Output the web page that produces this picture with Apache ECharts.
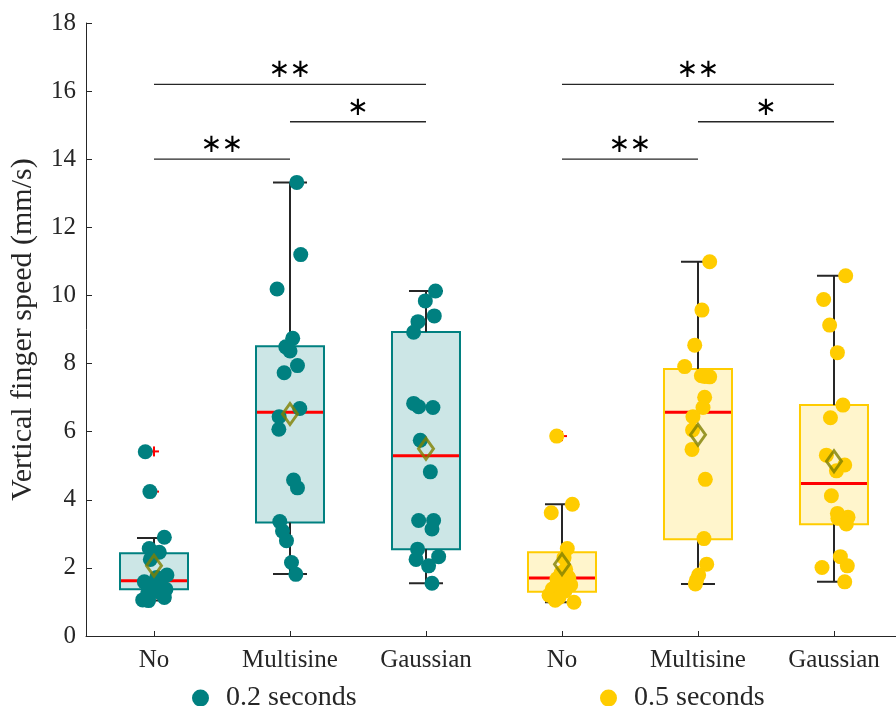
<!DOCTYPE html>
<html><head><meta charset="utf-8">
<script src="https://cdn.jsdelivr.net/npm/echarts@6/dist/echarts.min.js"></script>
<style>html,body{margin:0;padding:0;background:#fff}#c{width:896px;height:706px}</style>
</head><body><div id="c"></div><script>
// ---- data ----
const categories = ['No', 'Multisine', 'Gaussian', 'No', 'Multisine', 'Gaussian'];
const groupNames = ['0.2 seconds', '0.5 seconds'];
const yTicks = [0, 2, 4, 6, 8, 10, 12, 14, 16, 18];

const shortNo = [5.41, 4.24, 2.90, 2.57, 2.46, 2.25, 1.79, 1.72, 1.64, 1.59, 1.52, 1.45, 1.37, 1.30, 1.25, 1.13, 1.06, 1.04];
const shortNoJit = [-0.064, -0.03, 0.076, -0.035, 0.039, -0.027, 0.095, 0.02, 0.05, -0.071, -0.02, 0.0, 0.088, 0.03, -0.046, 0.076, -0.083, -0.04];
const shortMulti = [13.32, 11.2, 10.19, 8.74, 8.49, 8.37, 7.94, 7.73, 6.68, 6.44, 6.07, 4.58, 4.35, 3.36, 3.08, 2.80, 2.16, 1.81];
const shortMultiJit = [0.05, 0.079, -0.095, 0.02, -0.031, 0.0, 0.055, -0.043, 0.072, -0.08, -0.082, 0.026, 0.055, -0.075, -0.055, -0.026, 0.011, 0.043];
const shortGauss = [10.13, 9.84, 9.40, 9.23, 8.92, 6.83, 6.73, 6.71, 5.75, 4.82, 3.39, 3.39, 3.14, 2.55, 2.33, 2.25, 2.06, 1.55];
const shortGaussJit = [0.07, -0.005, 0.061, -0.059, -0.091, -0.091, -0.054, 0.051, -0.042, 0.032, -0.054, 0.056, 0.044, -0.062, 0.093, -0.073, 0.019, 0.044];

const longNo = [5.87, 3.87, 3.62, 2.57, 2.30, 1.96, 1.85, 1.74, 1.70, 1.68, 1.50, 1.43, 1.38, 1.32, 1.20, 1.13, 1.05, 0.99];
const longNoJit = [-0.039, 0.076, -0.079, 0.039, 0.015, 0.027, -0.007, 0.044, 0.05, -0.037, 0.064, -0.01, -0.071, 0.022, -0.095, -0.022, -0.05, 0.088];
const longMulti = [10.99, 9.57, 8.54, 7.91, 7.64, 7.62, 7.61, 7.01, 6.71, 6.44, 6.05, 5.48, 4.60, 2.86, 2.11, 1.79, 1.65, 1.53];
const longMultiJit = [0.086, 0.029, -0.024, -0.098, 0.025, 0.05, 0.086, 0.049, 0.037, -0.037, -0.04, -0.044, 0.054, 0.044, 0.064, 0.005, -0.01, -0.019];
const longGauss = [10.58, 9.88, 9.13, 8.32, 6.78, 6.41, 5.31, 5.02, 4.85, 4.12, 3.60, 3.49, 3.46, 3.29, 2.33, 2.06, 2.01, 1.59];
const longGaussJit = [0.086, -0.076, -0.032, 0.025, 0.066, -0.026, -0.056, 0.079, 0.018, -0.019, 0.025, 0.103, 0.029, 0.091, 0.047, 0.098, -0.088, 0.079];

const boxLow  = [1.04, 1.82, 1.55, 0.99, 1.53, 1.59];
const boxQ1   = [1.37, 3.33, 2.55, 1.30, 2.84, 3.28];
const boxMed  = [1.62, 6.57, 5.29, 1.70, 6.57, 4.48];
const boxQ3   = [2.43, 8.51, 8.93, 2.46, 7.84, 6.78];
const boxHigh = [2.88, 13.32, 10.13, 3.87, 10.99, 10.58];
const boxMean = [2.06, 6.52, 5.50, 2.11, 5.91, 5.13];

const outlierPos = [1, 1, 4];
const outlierVal = [5.42, 4.24, 5.87];

const sigFrom  = [1, 2, 1, 4, 5, 4];
const sigTo    = [2, 3, 3, 5, 6, 6];
const sigLevel = [14.0, 15.1, 16.2, 14.0, 15.1, 16.2];
const sigLabel = ['∗∗', '∗', '∗∗', '∗∗', '∗', '∗∗'];

// ---- styling ----
const TEAL = '#008080', YEL = '#ffcc00';
const TEAL_FILL = '#cce6e6', YEL_FILL = '#fff5cc';
const AX = '#262626';
const FONT = '"Liberation Serif", "Times New Roman", serif';

const groups = [
  [[shortNo, shortNoJit], [shortMulti, shortMultiJit], [shortGauss, shortGaussJit]],
  [[longNo, longNoJit], [longMulti, longMultiJit], [longGauss, longGaussJit]]
];

function pointsFor(g) {
  const out = [];
  groups[g].forEach(function (pair, k) {
    const pos = g * 3 + k + 1;
    pair[0].forEach(function (v, i) { out.push([pos + pair[1][i], v]); });
  });
  return out;
}

const boxData = categories.map(function (c, i) {
  return [i + 1, boxLow[i], boxQ1[i], boxMed[i], boxQ3[i], boxHigh[i]];
});

const chart = echarts.init(document.getElementById('c'), null, {renderer: 'canvas'});
chart.setOption({
  animation: false,
  backgroundColor: '#fff',
  grid: {left: 85, right: 0, top: 23, bottom: 70, containLabel: false},
  xAxis: {
    type: 'value', min: 0.5, max: 6.456,
    axisLine: {show: true, lineStyle: {color: AX, width: 1}},
    axisTick: {show: true, inside: true, length: 5, customValues: [1, 2, 3, 4, 5, 6], lineStyle: {color: AX}},
    axisLabel: {
      show: true, customValues: [1, 2, 3, 4, 5, 6], margin: 12,
      formatter: function (v) { return categories[Math.round(v) - 1]; },
      fontFamily: FONT, fontSize: 25, color: AX
    },
    splitLine: {show: false}
  },
  yAxis: {
    type: 'value', min: 0, max: 18, interval: 2,
    name: 'Vertical finger speed (mm/s)', nameLocation: 'middle', nameGap: 48,
    nameTextStyle: {fontFamily: FONT, fontSize: 30, color: AX},
    axisLine: {show: true, lineStyle: {color: AX, width: 1}},
    axisTick: {show: true, inside: true, length: 6, lineStyle: {color: AX}},
    axisLabel: {fontFamily: FONT, fontSize: 25, color: AX, margin: 10,
      formatter: function (v) { return yTicks.indexOf(v) >= 0 ? String(v) : ''; }},
    splitLine: {show: false}
  },
  legend: [
    {data: [groupNames[0]], left: 187, top: 679, icon: 'circle', itemWidth: 17, itemHeight: 17,
      textStyle: {fontFamily: FONT, fontSize: 28, color: AX, padding: [0, 0, 0, 12]}, selectedMode: false},
    {data: [groupNames[1]], left: 595, top: 679, icon: 'circle', itemWidth: 17, itemHeight: 17,
      textStyle: {fontFamily: FONT, fontSize: 28, color: AX, padding: [0, 0, 0, 12]}, selectedMode: false}
  ],
  series: [
    {
      type: 'custom', name: 'boxes', z: 2, data: boxData,
      renderItem: function (params, api) {
        const i = params.dataIndex;
        const x = api.value(0), lo = api.value(1), q1 = api.value(2), md = api.value(3), q3 = api.value(4), hi = api.value(5);
        const teal = i < 3;
        const tl = api.coord([x - 0.25, q3]), br = api.coord([x + 0.25, q1]);
        const cTop = api.coord([x, q3]), cHi = api.coord([x, hi]), cQ1 = api.coord([x, q1]), cLo = api.coord([x, lo]);
        const capL = api.coord([x - 0.125, hi]), capR = api.coord([x + 0.125, hi]);
        const capL2 = api.coord([x - 0.125, lo]), capR2 = api.coord([x + 0.125, lo]);
        const mL = api.coord([x - 0.25, md]), mR = api.coord([x + 0.25, md]);
        const wStyle = {stroke: AX, lineWidth: 2};
        return {type: 'group', children: [
          {type: 'rect', shape: {x: tl[0], y: tl[1], width: br[0] - tl[0], height: br[1] - tl[1]},
            style: {fill: teal ? TEAL_FILL : YEL_FILL, stroke: teal ? TEAL : YEL, lineWidth: 2}},
          {type: 'line', shape: {x1: cTop[0], y1: cTop[1], x2: cHi[0], y2: cHi[1]}, style: wStyle},
          {type: 'line', shape: {x1: cQ1[0], y1: cQ1[1], x2: cLo[0], y2: cLo[1]}, style: wStyle},
          {type: 'line', shape: {x1: capL[0], y1: capL[1], x2: capR[0], y2: capR[1]}, style: wStyle},
          {type: 'line', shape: {x1: capL2[0], y1: capL2[1], x2: capR2[0], y2: capR2[1]}, style: wStyle},
          {type: 'line', shape: {x1: mL[0] + 1, y1: mL[1], x2: mR[0] - 1, y2: mR[1]}, style: {stroke: '#ff0000', lineWidth: 3}}
        ]};
      }
    },
    {
      type: 'custom', name: 'outliers', z: 3,
      data: outlierPos.map(function (p, i) { return [p, outlierVal[i]]; }),
      renderItem: function (params, api) {
        const c = api.coord([api.value(0), api.value(1)]);
        const s = {stroke: '#ff0000', lineWidth: 2};
        return {type: 'group', children: [
          {type: 'line', shape: {x1: c[0] - 5, y1: c[1], x2: c[0] + 5, y2: c[1]}, style: s},
          {type: 'line', shape: {x1: c[0], y1: c[1] - 5, x2: c[0], y2: c[1] + 5}, style: s}
        ]};
      }
    },
    {type: 'scatter', name: groupNames[0], z: 4, symbol: 'circle', symbolSize: 15,
      itemStyle: {color: TEAL, opacity: 1}, data: pointsFor(0)},
    {type: 'scatter', name: groupNames[1], z: 4, symbol: 'circle', symbolSize: 15,
      itemStyle: {color: YEL, opacity: 1}, data: pointsFor(1)},
    {type: 'scatter', name: 'mean', z: 5, symbol: 'diamond', symbolSize: [15, 21],
      itemStyle: {color: 'rgba(0,0,0,0)', borderColor: '#808000', borderWidth: 3},
      data: boxMean.map(function (m, i) { return [i + 1, m]; })},
    {
      type: 'custom', name: 'sig', z: 5,
      data: sigFrom.map(function (f, i) { return [f, sigTo[i], sigLevel[i]]; }),
      renderItem: function (params, api) {
        const a = api.coord([api.value(0), api.value(2)]);
        const b = api.coord([api.value(1), api.value(2)]);
        const lab = sigLabel[params.dataIndex];
        const n = lab.length;
        const mid = (a[0] + b[0]) / 2;
        const kids = [{type: 'line', shape: {x1: a[0], y1: a[1], x2: b[0], y2: b[1]}, style: {stroke: AX, lineWidth: 1.3}}];
        for (let k = 0; k < n; k++) {
          kids.push({type: 'text', x: mid + (k - (n - 1) / 2) * 21, y: a[1] - 14,
            style: {text: lab[k], fontFamily: '"DejaVu Sans"', fontSize: 26, fill: '#000', align: 'center', verticalAlign: 'middle'}});
        }
        return {type: 'group', children: kids};
      }
    }
  ]
});
</script></body></html>
